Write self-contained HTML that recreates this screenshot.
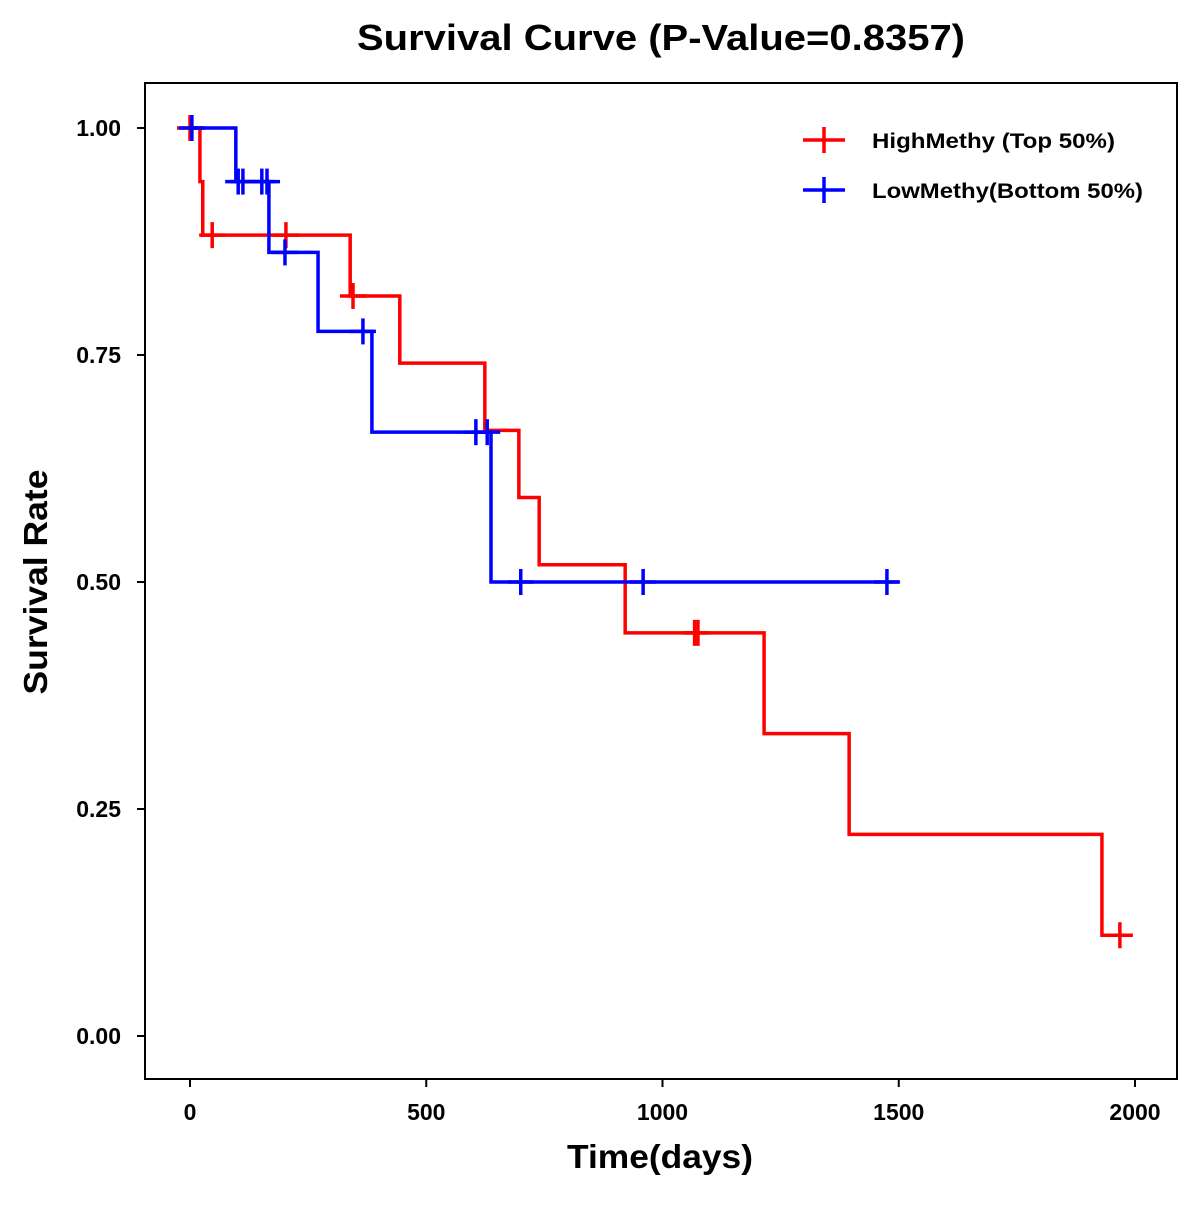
<!DOCTYPE html>
<html><head><meta charset="utf-8"><style>
body{margin:0;background:#fff}
text{font-family:"Liberation Sans",Arial,sans-serif;font-weight:bold}
</style></head><body>
<svg id="chart" width="1200" height="1200" viewBox="0 0 1200 1200">
<rect width="1200" height="1200" fill="#fff"/>
<text x="661" y="50" font-size="36" text-anchor="middle" textLength="608" lengthAdjust="spacingAndGlyphs">Survival Curve (P-Value=0.8357)</text>
<rect x="145" y="83" width="1032" height="996" fill="none" stroke="#000" stroke-width="2"/>
<g id="axes"></g>
<g id="series"></g>
<text x="660" y="1168" font-size="33" text-anchor="middle" textLength="186" lengthAdjust="spacingAndGlyphs">Time(days)</text>
<text x="47" y="582" font-size="33" text-anchor="middle" textLength="225" lengthAdjust="spacingAndGlyphs" transform="rotate(-90 47 582)">Survival Rate</text>
<g>
<g>
<line x1="803" y1="140" x2="845" y2="140" stroke="#f00" stroke-width="3.5"/>
<line x1="824" y1="127" x2="824" y2="153" stroke="#f00" stroke-width="3.5"/>
<text x="872" y="148" font-size="21" textLength="243" lengthAdjust="spacingAndGlyphs">HighMethy (Top 50%)</text></g>
<g>
<line x1="803" y1="190" x2="845" y2="190" stroke="#00f" stroke-width="3.5"/>
<line x1="824" y1="177" x2="824" y2="203" stroke="#00f" stroke-width="3.5"/>
<text x="872" y="198" font-size="21" textLength="271" lengthAdjust="spacingAndGlyphs">LowMethy(Bottom 50%)</text></g>
</g>
</svg>
<script>
const xTicks=[0,500,1000,1500,2000];
const yTicks=[0,0.25,0.5,0.75,1];
const yTickLabels=["0.00","0.25","0.50","0.75","1.00"];
const highTimes=[0,21,27,339,444,624,696,739,921,1215,1395,1930,1990];
const highSurv=[1,0.941,0.882,0.815,0.741,0.667,0.593,0.519,0.444,0.333,0.222,0.111,0.111];
const highCensorT=[0,47,203,345,1068,1075,1968];
const highCensorS=[1,0.882,0.882,0.815,0.444,0.444,0.111];
const lowTimes=[0,97,167,271,385,637,1500];
const lowSurv=[1,0.941,0.863,0.776,0.665,0.5,0.5];
const lowCensorT=[4,102,112,152,163,201,366,605,629,700,959,1475];
const lowCensorS=[1,0.941,0.941,0.941,0.941,0.863,0.776,0.665,0.665,0.5,0.5,0.5];

const NS="http://www.w3.org/2000/svg";
const xS=d=>190+d*0.4725;
const yS=v=>1036-v*908;
function mk(tag,attrs,parent){const e=document.createElementNS(NS,tag);for(const k in attrs)e.setAttribute(k,attrs[k]);parent.appendChild(e);return e;}
const axes=document.getElementById('axes');
xTicks.forEach(t=>{
  const l=mk('line',{x1:xS(t),x2:xS(t),y1:1079,y2:1087,stroke:'#000','stroke-width':2},axes);
  
  
  const tx=mk('text',{x:xS(t),y:1120,'font-size':23,'text-anchor':'middle'},axes);
  tx.textContent=t;
  
  
});
yTicks.forEach((t,i)=>{
  const l=mk('line',{x1:137,x2:145,y1:yS(t),y2:yS(t),stroke:'#000','stroke-width':2},axes);
  
  
  const tx=mk('text',{x:121,y:yS(t)+8,'font-size':23,'text-anchor':'end'},axes);
  tx.textContent=yTickLabels[i];
  
  
});
const series=document.getElementById('series');
function draw(times,surv,ct,cs,color,name){
  let d='M'+xS(times[0])+','+yS(surv[0]);
  for(let i=1;i<times.length;i++){d+=' H'+xS(times[i])+' V'+yS(surv[i]);}
  const p=mk('path',{d:d,fill:'none',stroke:color,'stroke-width':3.5},series);
  
  
  ct.forEach((t,i)=>{
    const g=mk('g',{},series);
    
    
    const x=xS(t),y=yS(cs[i]);
    mk('line',{x1:x-13,x2:x+13,y1:y,y2:y,stroke:color,'stroke-width':3.5},g);
    mk('line',{x1:x,x2:x,y1:y-13,y2:y+13,stroke:color,'stroke-width':3.5},g);
  });
}
draw(highTimes,highSurv,highCensorT,highCensorS,'#f00','high-methy');
draw(lowTimes,lowSurv,lowCensorT,lowCensorS,'#00f','low-methy');
</script>
</body></html>
